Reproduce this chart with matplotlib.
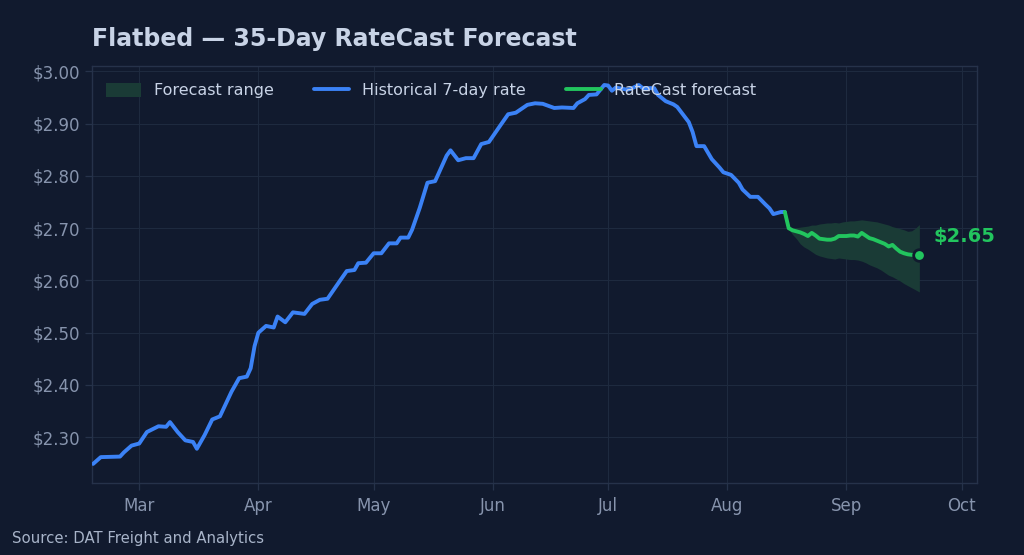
import matplotlib
matplotlib.use("Agg")
import matplotlib.pyplot as plt
import matplotlib.dates as mdates
from matplotlib.ticker import FuncFormatter
import numpy as np
import pandas as pd

# ---------------- data ----------------
hist_dates = [
    "2025-02-17", "2025-02-19", "2025-02-24", "2025-02-25", "2025-02-27", "2025-03-01",
    "2025-03-03", "2025-03-06", "2025-03-08", "2025-03-09", "2025-03-11", "2025-03-13",
    "2025-03-15", "2025-03-16", "2025-03-18", "2025-03-20", "2025-03-22", "2025-03-25",
    "2025-03-27", "2025-03-29", "2025-03-30", "2025-03-31", "2025-04-01", "2025-04-03",
    "2025-04-05", "2025-04-06", "2025-04-08", "2025-04-10", "2025-04-13", "2025-04-15",
    "2025-04-17", "2025-04-19", "2025-04-22", "2025-04-24", "2025-04-26", "2025-04-27",
    "2025-04-29", "2025-05-01", "2025-05-03", "2025-05-05", "2025-05-07", "2025-05-08",
    "2025-05-10", "2025-05-11", "2025-05-13", "2025-05-15", "2025-05-17", "2025-05-20",
    "2025-05-21", "2025-05-23", "2025-05-25", "2025-05-27", "2025-05-29", "2025-05-31",
    "2025-06-03", "2025-06-05", "2025-06-07", "2025-06-10", "2025-06-12", "2025-06-14",
    "2025-06-17", "2025-06-19", "2025-06-22", "2025-06-23", "2025-06-25", "2025-06-26",
    "2025-06-28", "2025-06-29", "2025-06-30", "2025-07-01", "2025-07-02", "2025-07-03",
    "2025-07-06", "2025-07-07", "2025-07-09", "2025-07-10", "2025-07-13", "2025-07-14",
    "2025-07-16", "2025-07-18", "2025-07-19", "2025-07-22", "2025-07-23", "2025-07-24",
    "2025-07-26", "2025-07-28", "2025-07-30", "2025-07-31", "2025-08-02", "2025-08-04",
    "2025-08-05", "2025-08-07", "2025-08-09", "2025-08-11", "2025-08-12", "2025-08-13",
    "2025-08-15", "2025-08-16",
]
hist_rate = [
    2.249, 2.262, 2.263, 2.271, 2.284, 2.288,
    2.310, 2.321, 2.320, 2.329, 2.310, 2.294,
    2.291, 2.278, 2.304, 2.334, 2.340, 2.387,
    2.413, 2.416, 2.432, 2.474, 2.500, 2.513,
    2.510, 2.531, 2.520, 2.539, 2.536, 2.555,
    2.563, 2.565, 2.597, 2.618, 2.620, 2.633,
    2.634, 2.652, 2.652, 2.671, 2.671, 2.682,
    2.682, 2.697, 2.739, 2.787, 2.790, 2.839,
    2.849, 2.830, 2.834, 2.834, 2.861, 2.865,
    2.897, 2.918, 2.921, 2.936, 2.939, 2.938,
    2.930, 2.931, 2.930, 2.939, 2.947, 2.955,
    2.956, 2.965, 2.974, 2.973, 2.963, 2.969,
    2.965, 2.967, 2.974, 2.968, 2.968, 2.955,
    2.943, 2.937, 2.932, 2.903, 2.884, 2.857,
    2.857, 2.832, 2.816, 2.807, 2.802, 2.787,
    2.774, 2.760, 2.760, 2.745, 2.738, 2.727,
    2.731, 2.731,
]

# forecast: anchor (last historical day) + 35 forecast days
fc_start = "2025-08-16"
fc_rate = [
    2.731,
    2.700, 2.696, 2.694, 2.692, 2.689, 2.685, 2.691, 2.686, 2.680, 2.679,
    2.678, 2.678, 2.680, 2.685, 2.685, 2.685, 2.686, 2.686, 2.684, 2.691,
    2.686, 2.681, 2.679, 2.676, 2.673, 2.670, 2.665, 2.668, 2.661, 2.655,
    2.652, 2.650, 2.649, 2.649, 2.648,
]
fc_upper = [
    2.702, 2.700, 2.701, 2.702, 2.703, 2.704, 2.706, 2.706, 2.708, 2.709,
    2.710, 2.710, 2.711, 2.710, 2.712, 2.713, 2.714, 2.714, 2.715, 2.716,
    2.715, 2.714, 2.713, 2.712, 2.710, 2.708, 2.706, 2.703, 2.701, 2.699,
    2.697, 2.694, 2.695, 2.700, 2.707,
]
fc_lower = [
    2.698, 2.688, 2.680, 2.670, 2.664, 2.660, 2.655, 2.650, 2.647, 2.645,
    2.643, 2.642, 2.641, 2.643, 2.642, 2.641, 2.640, 2.640, 2.639, 2.637,
    2.634, 2.630, 2.627, 2.624, 2.620, 2.615, 2.610, 2.607, 2.603, 2.599,
    2.594, 2.590, 2.586, 2.582, 2.578,
]

title = "Flatbed \u2014 35-Day RateCast Forecast"
source = "Source: DAT Freight and Analytics"
y_ticks = [2.30, 2.40, 2.50, 2.60, 2.70, 2.80, 2.90, 3.00]

# ---------------- styling ----------------
BG = "#111a2e"
GRID = "#1e2a3f"
SPINE = "#26324a"
TICK = "#8794ad"
TEXT = "#c8d3e6"
BLUE = "#3b82f6"
GREEN = "#22c55e"
BAND = "#1a3b36"

hx = pd.to_datetime(hist_dates)
fx = pd.date_range(fc_start, periods=len(fc_rate), freq="D")
bx = fx[1:]

fig = plt.figure(figsize=(10.24, 5.55), dpi=100, facecolor=BG)
ax = fig.add_axes([0.0898, 0.130, 0.8643, 0.751])
ax.set_facecolor(BG)

ax.fill_between(bx, fc_lower, fc_upper, color=BAND, lw=0, label="Forecast range", zorder=2)
ax.plot(hx, hist_rate, color=BLUE, lw=2.8, label="Historical 7-day rate", zorder=3,
        solid_capstyle="round", solid_joinstyle="round")
ax.plot(fx, fc_rate, color=GREEN, lw=2.8, label="RateCast forecast", zorder=4,
        solid_capstyle="round", solid_joinstyle="round")
ax.scatter([fx[-1]], [fc_rate[-1]], s=70, color=GREEN, edgecolor=BG, linewidth=2, zorder=5)
ax.annotate(f"${fc_rate[-1]:.2f}", xy=(fx[-1], fc_rate[-1]), xytext=(10, 7),
            textcoords="offset points", color=GREEN, fontsize=14, fontweight="bold",
            va="bottom", ha="left")

ax.set_xlim(hx[0] - pd.Timedelta(days=0.3), fx[-1] + pd.Timedelta(days=15))
ax.set_yticks(y_ticks)
ax.yaxis.set_major_formatter(FuncFormatter(lambda v, p: f"${v:.2f}"))
ax.xaxis.set_major_locator(mdates.MonthLocator())
ax.xaxis.set_major_formatter(mdates.DateFormatter("%b"))

ax.grid(True, color=GRID, lw=0.8)
ax.set_axisbelow(True)
for s in ax.spines.values():
    s.set_color(SPINE)
    s.set_linewidth(1.0)
ax.tick_params(colors=TICK, labelsize=12, length=5, width=0.9)
ax.tick_params(axis="x", pad=5, colors=SPINE, labelcolor=TICK)
ax.tick_params(axis="y", colors=SPINE, labelcolor=TICK)

leg = ax.legend(loc="upper left", ncol=3, frameon=False, fontsize=11.5,
                labelcolor=TEXT, handlelength=2.2, handleheight=1.0, columnspacing=2.5,
                bbox_to_anchor=(0.0, 0.995))

fig.text(0.0898, 0.93, title, color=TEXT, fontsize=17, fontweight="bold", ha="left", va="center")
fig.text(0.012, 0.03, source, color="#a8b4c9", fontsize=10.7, ha="left", va="center")

fig.savefig("out.png", dpi=100, facecolor=BG)
